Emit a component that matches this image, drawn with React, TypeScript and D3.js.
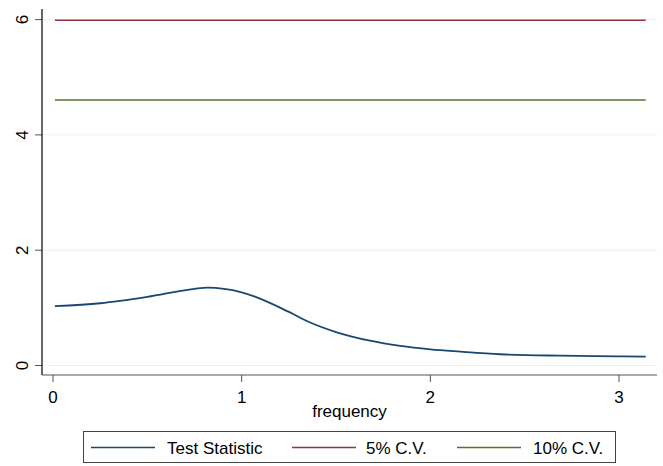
import React from "react";
import * as d3 from "d3";

const freq = [0.01, 0.25, 0.5, 0.75, 0.82, 1.0, 1.25, 1.36, 1.5, 1.68, 1.84, 2.0, 2.16, 2.37, 2.69, 3.0, 3.1416];
const testStat = [1.03, 1.08, 1.19, 1.33, 1.35, 1.27, 0.93, 0.75, 0.58, 0.43, 0.34, 0.28, 0.24, 0.195, 0.17, 0.16, 0.155];
const cv5 = 5.99;
const cv10 = 4.605;
const xTicks = [0, 1, 2, 3];
const yTicks = [0, 2, 4, 6];
const legendLabels = ["Test Statistic", "5% C.V.", "10% C.V."];
const colors = ["#1a476f", "#90353b", "#55752f"];

export default function App() {
  const W = 663, H = 466;
  const x = d3.scaleLinear().domain([0, 3]).range([53, 619]);
  const y = d3.scaleLinear().domain([0, 6]).range([365.5, 19.6]);
  const left = 42, right = 657, top = 9, bottom = 375;
  const pts = freq.map((f, i) => [f, testStat[i]] as [number, number]);
  const line = d3.line<[number, number]>().x(d => x(d[0])).y(d => y(d[1])).curve(d3.curveMonotoneX);
  const fMin = freq[0], fMax = freq[freq.length - 1];
  const font = "'Liberation Sans', Arial, Helvetica, sans-serif";
  const fs = 17;
  const legendItems = [
    { lx: 91, tx: 167 },
    { lx: 292, tx: 366 },
    { lx: 457, tx: 533 },
  ];
  return (
    <svg width={W} height={H} style={{ position: "absolute", left: 0, top: 0, background: "#fff" }} fontFamily={font}>
      <rect x={0} y={0} width={W} height={H} fill="#fff" />
      {yTicks.map(t => (
        <g key={t}>
          <line x1={left} x2={right} y1={y(t)} y2={y(t)} stroke="#eaf2f3" strokeWidth={1} />
          <line x1={35} x2={left} y1={y(t)} y2={y(t)} stroke="#555" strokeWidth={1} />
          <text transform={`translate(28,${y(t)}) rotate(-90)`} textAnchor="middle" fontSize={fs} fill="#000">{t}</text>
        </g>
      ))}
      <line x1={x(fMin)} x2={x(fMax)} y1={y(cv5)} y2={y(cv5)} stroke={colors[1]} strokeWidth={1.6} />
      <line x1={x(fMin)} x2={x(fMax)} y1={y(cv10)} y2={y(cv10)} stroke={colors[2]} strokeWidth={1.6} />
      <path d={line(pts) || ""} fill="none" stroke={colors[0]} strokeWidth={1.8} />
      <line x1={left} x2={left} y1={top} y2={bottom} stroke="#000" strokeWidth={1.2} />
      <line x1={left} x2={right} y1={bottom} y2={bottom} stroke="#555" strokeWidth={1.2} />
      {xTicks.map(t => (
        <g key={t}>
          <line x1={x(t)} x2={x(t)} y1={bottom} y2={382} stroke="#555" strokeWidth={1} />
          <text x={x(t)} y={403} textAnchor="middle" fontSize={fs} fill="#000">{t}</text>
        </g>
      ))}
      <text x={(left + right) / 2} y={417} textAnchor="middle" fontSize={fs} fill="#000">frequency</text>
      <rect x={83.5} y={431.5} width={532} height={31} fill="#fff" stroke="#444" strokeWidth={1} />
      {legendItems.map((it, i) => (
        <g key={i}>
          <line x1={it.lx} x2={it.lx + 64} y1={447.5} y2={447.5} stroke={colors[i]} strokeWidth={1.6} />
          <text x={it.tx} y={454} fontSize={fs} fill="#000">{legendLabels[i]}</text>
        </g>
      ))}
    </svg>
  );
}
